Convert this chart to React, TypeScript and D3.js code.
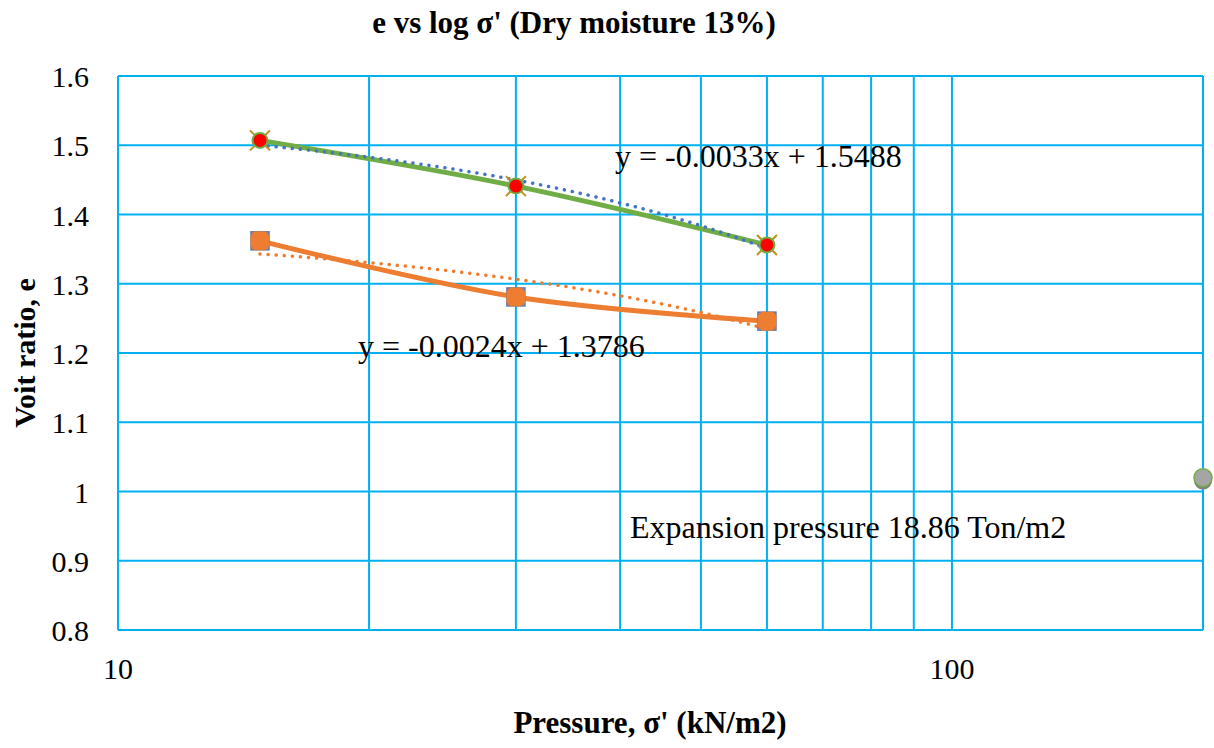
import React, { useEffect, useRef } from 'react';
import * as d3 from 'd3';

// pressure values (kN/m2)
const pressures = [14.8, 30, 60];
// void ratio, first loading series
const upperE = [1.507, 1.441, 1.356];
// void ratio, second series
const lowerE = [1.362, 1.281, 1.246];
// single point (expansion pressure marker)
const expansionPoint = { x: 200, y: 1.02 };
// trendline coefficients shown on the chart: [slope, intercept]
const upperTrend = [-0.0033, 1.5488];
const lowerTrend = [-0.0024, 1.3786];
const xTicks = [10, 100];
const xGrid = [10, 20, 30, 40, 50, 60, 70, 80, 90, 100, 200];
const yTicks = [0.8, 0.9, 1.0, 1.1, 1.2, 1.3, 1.4, 1.5, 1.6];

const App = () => {
  const svgRef = useRef<SVGSVGElement>(null);

  useEffect(() => {
    const svg = d3.select(svgRef.current);
    svg.selectAll('*').remove();

    const width = 1214;
    const height = 748;
    const margin = { top: 76, right: 11, bottom: 118, left: 118 };
    const font = '"Liberation Serif", "Times New Roman", serif';

    const x = d3.scaleLog().domain([10, 200]).range([margin.left, width - margin.right]);
    const y = d3.scaleLinear().domain([0.8, 1.6]).range([height - margin.bottom, margin.top]);

    const grid = '#00B0F0';

    // vertical grid lines
    svg.append('g').selectAll('line').data(xGrid).enter().append('line')
      .attr('x1', d => x(d)).attr('x2', d => x(d))
      .attr('y1', y(0.8)).attr('y2', y(1.6))
      .attr('stroke', grid).attr('stroke-width', 2);

    // horizontal grid lines
    svg.append('g').selectAll('line').data(yTicks).enter().append('line')
      .attr('x1', x(10)).attr('x2', x(200))
      .attr('y1', d => y(d)).attr('y2', d => y(d))
      .attr('stroke', grid).attr('stroke-width', 2);

    // tick labels
    svg.append('g').selectAll('text').data(yTicks).enter().append('text')
      .attr('x', 89).attr('y', d => y(d) + 11)
      .attr('text-anchor', 'end')
      .style('font-family', font).style('font-size', '30px')
      .text(d => (d === 1 ? '1' : d.toFixed(1)));

    svg.append('g').selectAll('text').data(xTicks).enter().append('text')
      .attr('x', d => x(d)).attr('y', 679)
      .attr('text-anchor', 'middle')
      .style('font-family', font).style('font-size', '30px')
      .text(d => d);

    // trendlines (linear in x, drawn on the log axis)
    const trendLine = (coef: number[], color: string) => {
      const xs = d3.range(0, 101).map(i => pressures[0] * Math.pow(pressures[2] / pressures[0], i / 100));
      const line = d3.line<number>().x(d => x(d)).y(d => y(coef[0] * d + coef[1]));
      svg.append('path').datum(xs)
        .attr('d', line)
        .attr('fill', 'none')
        .attr('stroke', color).attr('stroke-width', 3.5)
        .attr('stroke-linecap', 'round')
        .attr('stroke-dasharray', '0.1 8');
    };

    const smooth = d3.line<number>()
      .x((d, i) => x(pressures[i]))
      .y(d => y(d))
      .curve(d3.curveCatmullRom.alpha(0.5));

    // lower series
    svg.append('path').datum(lowerE)
      .attr('d', smooth).attr('fill', 'none')
      .attr('stroke', '#ED7D31').attr('stroke-width', 5);
    trendLine(lowerTrend, '#ED7D31');

    const lowerMarks = svg.append('g').selectAll('g').data(lowerE).enter().append('g')
      .attr('transform', (d, i) => `translate(${x(pressures[i])},${y(d)})`);
    lowerMarks.append('rect')
      .attr('x', -9).attr('y', -9).attr('width', 18).attr('height', 18)
      .attr('fill', '#ED7D31').attr('stroke', '#5B7BB5').attr('stroke-width', 1.5);
    lowerMarks.append('rect')
      .attr('x', -6).attr('y', -9.5).attr('width', 12).attr('height', 19)
      .attr('fill', '#ED7D31');
    lowerMarks.append('rect')
      .attr('x', -9.5).attr('y', -6).attr('width', 19).attr('height', 12)
      .attr('fill', '#ED7D31');

    // upper series
    svg.append('path').datum(upperE)
      .attr('d', smooth).attr('fill', 'none')
      .attr('stroke', '#70AD47').attr('stroke-width', 5);
    trendLine(upperTrend, '#4472C4');

    const upperMarks = svg.append('g').selectAll('g').data(upperE).enter().append('g')
      .attr('transform', (d, i) => `translate(${x(pressures[i])},${y(d)})`);
    upperMarks.append('path')
      .attr('d', 'M-10,-10L10,10M-10,10L10,-10')
      .attr('stroke', '#C09020').attr('stroke-width', 2);
    upperMarks.append('circle')
      .attr('r', 8.5).attr('fill', '#70AD47');
    upperMarks.append('circle')
      .attr('r', 6.5).attr('fill', '#FF0000');

    // expansion pressure point
    svg.append('circle')
      .attr('cx', x(expansionPoint.x)).attr('cy', y(expansionPoint.y) + 3)
      .attr('r', 9).attr('fill', '#808080');
    svg.append('circle')
      .attr('cx', x(expansionPoint.x)).attr('cy', y(expansionPoint.y))
      .attr('r', 9).attr('fill', '#A5A5A5')
      .attr('stroke', '#70AD47').attr('stroke-width', 1.5);

    // annotations
    const label = (tx: number, ty: number, text: string) =>
      svg.append('text').attr('x', tx).attr('y', ty)
        .style('font-family', font).style('font-size', '32px').text(text);
    label(615, 167, 'y = -0.0033x + 1.5488');
    label(358, 357, 'y = -0.0024x + 1.3786');
    label(630, 538, 'Expansion pressure 18.86 Ton/m2');

    // title and axis titles
    svg.append('text')
      .attr('x', 574).attr('y', 33).attr('text-anchor', 'middle')
      .style('font-family', font).style('font-size', '31px').style('font-weight', 'bold')
      .text("e vs log σ' (Dry moisture 13%)");

    svg.append('text')
      .attr('x', 650).attr('y', 733).attr('text-anchor', 'middle')
      .style('font-family', font).style('font-size', '31px').style('font-weight', 'bold')
      .text("Pressure, σ' (kN/m2)");

    svg.append('text')
      .attr('transform', `translate(35,${y(1.2)}) rotate(-90)`)
      .attr('text-anchor', 'middle')
      .style('font-family', font).style('font-size', '30px').style('font-weight', 'bold')
      .text('Voit ratio, e');
  }, []);

  return <svg ref={svgRef} width={1214} height={748} style={{ display: 'block', position: 'absolute', left: 0, top: 0 }} />;
};

export default App;
